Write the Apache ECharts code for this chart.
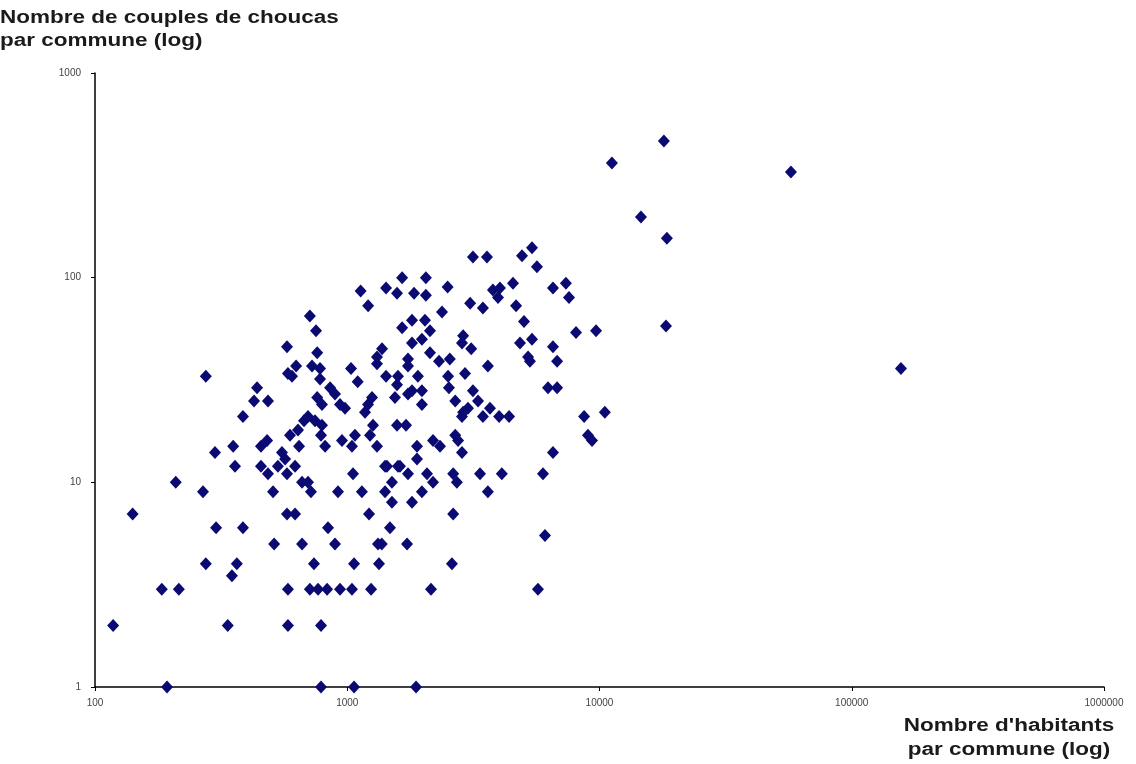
<!DOCTYPE html>
<html>
<head>
<meta charset="utf-8">
<script src="https://cdn.jsdelivr.net/npm/echarts@6/dist/echarts.min.js"></script>
<style>
html,body{margin:0;padding:0;background:#fff;}
#chart{width:1136px;height:764px;}
</style>
</head>
<body>
<div id="chart"></div>
<script>
// Habitants per commune (x) and pairs of jackdaws per commune (y), paired by position
const habitants = [
  193,787,1064,1874,
  118,336,582,787,
  184,215,582,711,766,832,936,1044,1243,2148,5702,
  349,
  365,275,738,1064,1336,2600,
  513,662,894,1324,1370,1726,
  6080,
  302,386,839,1477,
  141,577,621,1220,2630,
  1504,1806,
  268,508,718,919,1143,1412,1977,3610,
  209,662,699,1504,2188,2720,
  485,577,1054,1741,2071,2630,3360,4100,5970,
  359,455,531,621,1412,1618,1437,1589,
  567,1890,
  299,551,2850,6540,
  353,455,644,817,1044,1312,1890,2332,
  481,953,2188,2750,9340,
  593,787,1073,1231,2680,9000,
  638,
  794,1265,1575,1710,
  674,745,
  386,699,2850,3450,4000,4380,8690,
  1176,2880,10500,
  980,3010,3680,
  794,936,1209,1977,
  427,485,2680,3300,
  760,1254,1546,
  894,1741,
  1806,1977,3150,
  439,855,2530,6250,6790,
  1575,
  1100,
  780,
  275,604,1425,1589,1906,2510,
  582,2930,
  780,1035,156700,
  627,725,1741,3610,
  1312,
  2311,6790,5300,
  1741,2550,
  1312,5210,
  760,2128,
  1374,3100,
  577,6540,
  1806,2850,4840,
  1977,5400,
  2880,
  8070,
  752,2128,9690,
  1650,
  18350,
  5020,
  1806,2033,
  711,
  2375,
  3450,
  1210,4670,
  3070,
  3960,7570,
  2050,
  1575,1840,
  1130,
  3780,
  1425,4030,6540,
  2500,
  4540,7360,
  1650,2050,
  5650,
  3150,3580,
  4930,
  5400,
  18500,
  14600,
  57400,
  11200,
  18000
];
const couples = [
  1,1,1,1,
  2,2,2,2,
  3,3,3,3,3,3,3,3,3,3,3,
  3.5,
  4,4,4,4,4,4,
  5,5,5,5,5,5,
  5.5,
  6,6,6,6,
  7,7,7,7,7,
  8,8,
  9,9,9,9,9,9,9,9,
  10,10,10,10,10,10,
  11,11,11,11,11,11,11,11,11,
  12,12,12,12,12,12,12,12,
  13,13,
  14,14,14,14,
  15,15,15,15,15,15,15,15,
  16,16,16,16,16,
  17,17,17,17,17,17,
  18,
  19,19,19,19,
  20,20,
  21,21,21,21,21,21,21,
  22,22,22,
  23,23,23,
  24,24,24,24,
  25,25,25,25,
  26,26,26,
  27,27,
  28,28,28,
  29,29,29,29,29,
  30,
  31,
  32,
  33,33,33,33,33,33,
  34,34,
  36,36,36,
  37,37,37,37,
  38,
  39,39,39,
  40,40,
  41,41,
  43,43,
  45,45,
  46,46,
  48,48,48,
  50,50,
  52,
  54,
  55,55,55,
  57,
  58,
  61,
  62,62,
  65,
  68,
  71,
  73,73,
  75,
  80,80,
  82,
  84,84,
  86,
  87,
  89,89,89,
  90,
  94,94,
  100,100,
  113,
  126,126,
  128,
  140,
  156,
  198,
  328,
  363,
  465
];
const xTitle = ["Nombre d'habitants", "par commune (log)"];
const yTitle = ["Nombre de couples de choucas", "par commune (log)"];

const data = habitants.map((h, i) => [h, couples[i]]);

const chart = echarts.init(document.getElementById('chart'), null, {renderer: 'canvas'});
const font = "'Liberation Sans', Arial, sans-serif";
chart.setOption({
  animation: false,
  backgroundColor: '#ffffff',
  grid: {left: 95, right: 32, top: 73, bottom: 77, containLabel: false},
  xAxis: {
    type: 'log', logBase: 10, min: 100, max: 1000000,
    splitLine: {show: false},
    axisLine: {show: true, lineStyle: {color: '#000', width: 1.5}},
    axisTick: {show: true, length: 4, inside: false, lineStyle: {color: '#000'}},
    minorTick: {show: false},
    axisLabel: {color: '#444', fontSize: 10, fontFamily: font, margin: 11, formatter: v => String(v)}
  },
  yAxis: {
    type: 'log', logBase: 10, min: 1, max: 1000,
    splitLine: {show: false},
    axisLine: {show: true, lineStyle: {color: '#000', width: 1.5}},
    axisTick: {show: true, length: 4, inside: false, lineStyle: {color: '#000'}},
    minorTick: {show: false},
    axisLabel: {color: '#444', fontSize: 10, fontFamily: font, margin: 14, formatter: v => String(v)}
  },
  graphic: [
    {type: 'text', x: 0, y: 7, scaleX: 1.25, style: {text: yTitle.join('\n'), font: 'bold 18px ' + font, fill: '#1a1a1a', lineHeight: 23, textAlign: 'left'}},
    {type: 'text', x: 1009, y: 714, scaleX: 1.25, style: {text: xTitle.join('\n'), font: 'bold 18px ' + font, fill: '#1a1a1a', lineHeight: 24, textAlign: 'center'}}
  ],
  series: [{
    type: 'scatter',
    data: data,
    symbol: 'diamond',
    symbolSize: [12, 13],
    itemStyle: {color: '#0a0a72', opacity: 1}
  }]
});
</script>
</body>
</html>
